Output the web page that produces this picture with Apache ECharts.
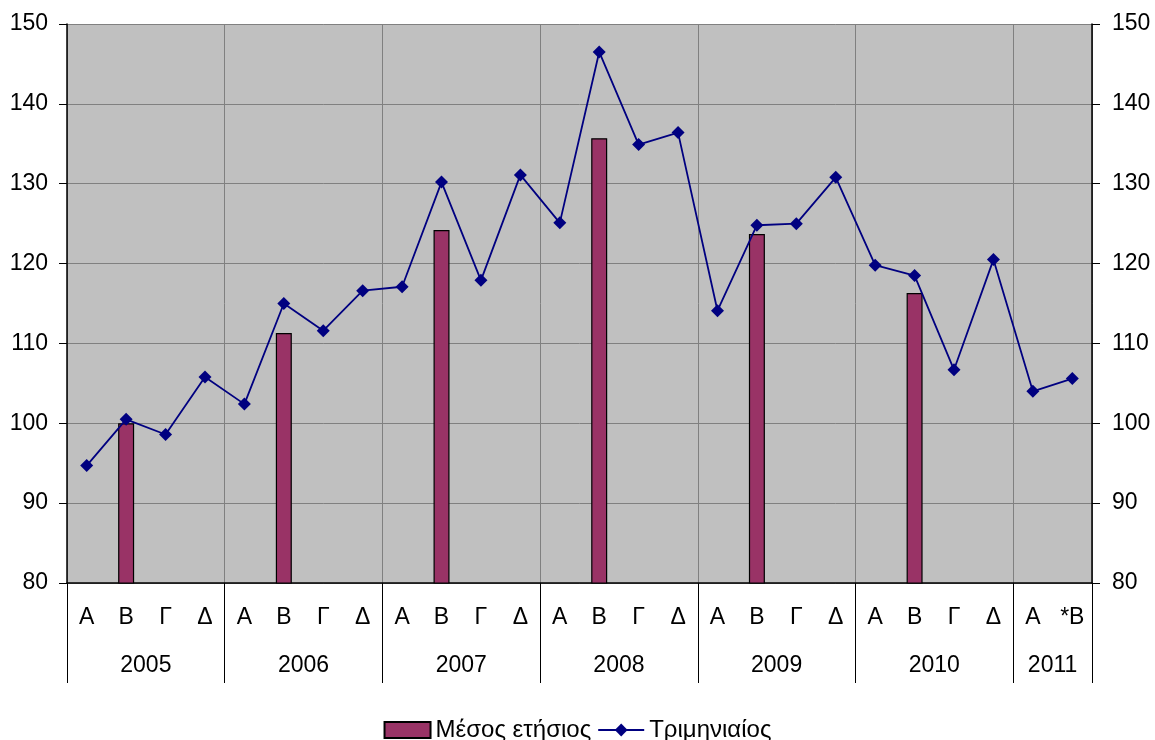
<!DOCTYPE html>
<html>
<head>
<meta charset="utf-8">
<script src="https://cdn.jsdelivr.net/npm/echarts@6/dist/echarts.min.js"></script>
<style>
  html, body { margin: 0; padding: 0; background: #fff; }
  #main { width: 1155px; height: 740px; }
</style>
</head>
<body>
<div id="main"></div>
<script>
// τρίμηνα (κατηγορίες άξονα x)
const quarters = ['Α','Β','Γ','Δ','Α','Β','Γ','Δ','Α','Β','Γ','Δ','Α','Β','Γ','Δ',
                  'Α','Β','Γ','Δ','Α','Β','Γ','Δ','Α','*Β'];
const years = ['2005','2006','2007','2008','2009','2010','2011'];
// θέση κέντρου κάθε έτους και όρια ετών (σε μονάδες τριμήνων)
const yearCenters = [2, 6, 10, 14, 18, 22, 25];
const yearBounds = [0, 4, 8, 12, 16, 20, 24, 26];

// Τριμηνιαίος δείκτης
const quarterly = [94.7, 100.5, 98.6, 105.8, 102.4, 115.0, 111.6, 116.6,
                   117.1, 130.2, 117.9, 131.1, 125.1, 146.5, 134.9, 136.4,
                   114.1, 124.8, 125.0, 130.8, 119.8, 118.5, 106.7, 120.5,
                   104.0, 105.6];
// Μέσος ετήσιος (στη θέση Β κάθε έτους)
const annual = [null, 100.0, null, null, null, 111.3, null, null,
                null, 124.2, null, null, null, 135.7, null, null,
                null, 123.7, null, null, null, 116.3, null, null,
                null, null];

const yTicks = { min: 80, max: 150, interval: 10 };
const font = 'Liberation Sans, Arial, sans-serif';
const fs = 23;

let myChart = echarts.init(document.getElementById('main'));
myChart.setOption({
  animation: false,
  textStyle: { fontFamily: font },
  grid: { left: 67, right: 63, top: 24, bottom: 157, backgroundColor: '#c0c0c0', show: true, borderWidth: 0 },
  legend: {
    top: 713,
    left: 'center',
    itemWidth: 46,
    itemHeight: 16,
    itemGap: 6,
    textStyle: { fontSize: 24, color: '#000', fontFamily: font },
    data: [
      { name: 'Μέσος ετήσιος', icon: 'rect' },
      { name: 'Τριμηνιαίος' }
    ]
  },
  xAxis: [
    {
      type: 'category',
      data: quarters,
      position: 'bottom',
      axisLine: { lineStyle: { color: '#000', width: 1.5 } },
      axisTick: { length: 50, interval: 0, lineStyle: { color: '#000' } },
      axisLabel: { interval: 0, margin: 23, fontSize: fs, color: '#000', fontFamily: font },
      splitLine: {
        show: true,
        interval: function (index) { return index % 4 === 0; },
        lineStyle: { color: '#808080', width: 1 }
      }
    },
    {
      type: 'value',
      min: 0,
      max: 26,
      position: 'bottom',
      axisLine: { show: false },
      splitLine: { show: false },
      axisTick: { show: true, length: 100, customValues: yearBounds, lineStyle: { color: '#000' } },
      axisLabel: {
        margin: 71,
        fontSize: fs,
        color: '#000',
        fontFamily: font,
        customValues: yearCenters,
        formatter: function (v) {
          const i = yearCenters.indexOf(v);
          return i >= 0 ? years[i] : '';
        }
      }
    }
  ],
  yAxis: [
    {
      type: 'value',
      position: 'left',
      min: yTicks.min, max: yTicks.max, interval: yTicks.interval,
      axisLine: { show: true, lineStyle: { color: '#000', width: 1.5 } },
      axisTick: { show: true, length: 8, lineStyle: { color: '#000' } },
      axisLabel: { fontSize: fs, color: '#000', margin: 19, fontFamily: font },
      splitLine: { show: true, lineStyle: { color: '#808080', width: 1 } }
    },
    {
      type: 'value',
      position: 'right',
      min: yTicks.min, max: yTicks.max, interval: yTicks.interval,
      axisLine: { show: true, lineStyle: { color: '#000', width: 1.5 } },
      axisTick: { show: true, length: 8, lineStyle: { color: '#000' } },
      axisLabel: { fontSize: fs, color: '#000', margin: 20, fontFamily: font },
      splitLine: { show: false }
    }
  ],
  series: [
    {
      name: 'Μέσος ετήσιος',
      type: 'bar',
      xAxisIndex: 0,
      yAxisIndex: 0,
      barWidth: 16,
      itemStyle: { color: '#993366', borderColor: '#000', borderWidth: 1.2 },
      data: annual
    },
    {
      name: 'Τριμηνιαίος',
      type: 'line',
      xAxisIndex: 0,
      yAxisIndex: 0,
      symbol: 'diamond',
      symbolSize: 13,
      lineStyle: { color: '#000080', width: 1.8 },
      itemStyle: { color: '#000080' },
      data: quarterly
    }
  ]
});
</script>
</body>
</html>
